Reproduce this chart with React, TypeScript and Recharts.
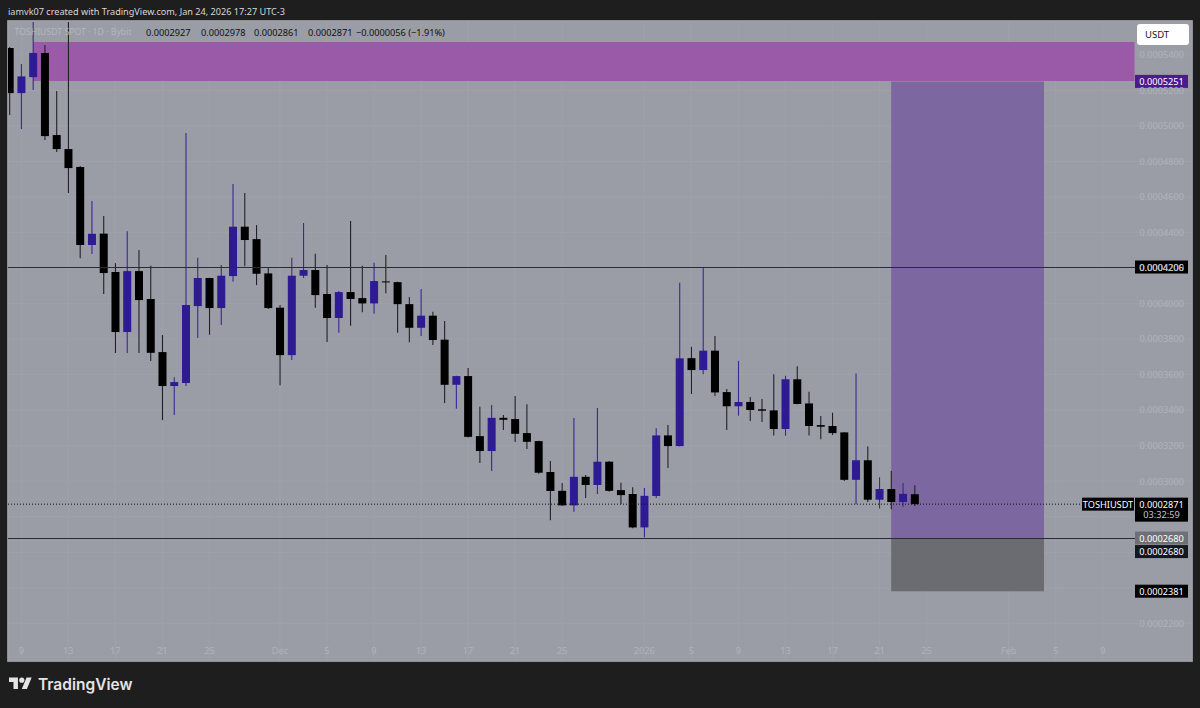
import { Bar, CartesianGrid, ComposedChart, ReferenceArea, ReferenceLine, XAxis, YAxis } from "recharts";

// prices are kept in units of 0.0000001
const days = Array.from({ length: 78 }, (_, i) => i);
const opens = [
  5439, 5185, 5275, 5411, 4949, 4870, 4769, 4330, 4394, 4178, 3840, 4183, 4026, 3727, 3536, 3553, 3986, 4144, 3975, 4155,
  4433, 4363, 4170, 3977, 3710, 4157, 4189, 4054, 3919, 4065, 4031, 4001, 4125, 4121, 3997, 3864, 3932, 3797, 3543, 3592,
  3254, 3170, 3357, 3350, 3271, 3226, 3052, 2946, 2864, 3025, 2979, 3110, 2950, 2928, 2740, 2917, 3258, 3198, 3693, 3626,
  3735, 3502, 3422, 3446, 3405, 3399, 3294, 3574, 3438, 3316, 3311, 3275, 3008, 3118, 2896, 2956, 2883, 2927,
];
const highs = [
  5445, 5349, 5585, 5456, 5197, 5585, 4774, 4577, 4493, 4228, 4408, 4302, 4213, 3823, 3586, 4960, 4258, 4146, 4217, 4673,
  4622, 4442, 4202, 3992, 4258, 4454, 4281, 4217, 4071, 4465, 4213, 4230, 4273, 4123, 4037, 4082, 3954, 3902, 3594, 3637,
  3419, 3429, 3373, 3480, 3434, 3228, 3114, 2990, 3356, 3035, 3412, 3114, 2991, 2966, 2962, 3299, 3316, 4117, 3757, 4206,
  3817, 3519, 3678, 3474, 3463, 3602, 3594, 3648, 3504, 3367, 3386, 3277, 3607, 3196, 3022, 3057, 2990, 2978,
];
const lows = [
  5062, 4983, 5202, 4921, 4853, 4622, 4256, 4279, 4054, 3722, 3722, 3722, 3677, 3344, 3373, 3536, 3806, 3825, 3879, 4123,
  4211, 4104, 3970, 3541, 3682, 4144, 3977, 3784, 3836, 3875, 3952, 3943, 4059, 3836, 3783, 3817, 3767, 3440, 3408, 3246,
  3102, 3057, 3288, 3221, 3181, 3042, 2781, 2862, 2828, 2905, 2928, 2941, 2870, 2736, 2684, 2905, 3074, 3196, 3491, 3603,
  3480, 3288, 3369, 3339, 3333, 3258, 3256, 3433, 3258, 3236, 3260, 3001, 2871, 2883, 2847, 2842, 2856, 2861,
];
const closes = [
  5185, 5279, 5411, 4943, 4870, 4763, 4330, 4393, 4172, 3840, 4183, 4020, 3723, 3536, 3558, 3992, 4144, 3975, 4157, 4433,
  4358, 4168, 3975, 3710, 4157, 4189, 4048, 3919, 4065, 4026, 4001, 4127, 4121, 3997, 3864, 3932, 3795, 3543, 3592, 3250,
  3170, 3357, 3346, 3267, 3222, 3048, 2945, 2864, 3025, 2979, 3110, 2946, 2922, 2740, 2918, 3258, 3198, 3692, 3626, 3735,
  3500, 3422, 3446, 3401, 3397, 3294, 3574, 3435, 3311, 3307, 3271, 3008, 3118, 2896, 2956, 2883, 2929, 2871,
];

const priceTicks = [2200, 2400, 2600, 2800, 3000, 3200, 3400, 3600, 3800, 4000, 4200, 4400, 4600, 4800, 5000, 5200, 5400];
// these sit behind the price tags in the picture, only their grid lines show
const coveredTicks = [2400, 2600, 2800];
const dayTicks = [1, 5, 9, 13, 17, 23, 27, 31, 35, 39, 43, 47, 54, 58, 62, 66, 70, 74, 78, 85, 89, 93];
const dayLabels = ["9", "13", "17", "21", "25", "Dec", "5", "9", "13", "17", "21", "25", "2026", "5", "9", "13", "17", "21", "25", "Feb", "5", "9"];

const candles = days.map((day, i) => ({
  day,
  open: opens[i],
  high: highs[i],
  low: lows[i],
  close: closes[i],
}));

const FONT = "'Noto Sans', sans-serif";
const BLUE = "#2e1a93";
const BLACK = "#000000";

const fmt = (v: number) => (v / 1e7).toFixed(7);

function Candle(props: any) {
  const { x, y, width, height, payload } = props;
  const { open, high, low, close } = payload;
  const perUnit = height / (high - low);
  const up = close > open;
  const top = y + (high - Math.max(open, close)) * perUnit;
  const bodyH = Math.max(Math.abs(open - close) * perUnit, 1);
  const cx = x + width / 2;
  return (
    <g>
      <line x1={cx} x2={cx} y1={y} y2={y + height} stroke={up ? "#3a2799" : "#222226"} strokeWidth={1.1} />
      <rect x={x} y={top} width={width} height={bodyH} fill={up ? BLUE : BLACK} />
    </g>
  );
}

function PriceTag(props: any) {
  const { viewBox, text, fill, color = "#ffffff", sub, tagX = 1135, tagW = 53, dy = 0 } = props;
  const cy = viewBox.y + dy;
  return (
    <g>
      <rect x={tagX} y={cy - 6.5} width={tagW} height={sub ? 24 : 13} fill={fill} />
      <text x={tagX + tagW / 2} y={cy + 3.5} fill={color} fontSize={9.2} fontFamily={FONT} textAnchor="middle">
        {text}
      </text>
      {sub ? (
        <text x={tagX + tagW / 2} y={cy + 14} fill="#c4c5c9" fontSize={9.2} fontFamily={FONT} textAnchor="middle">
          {sub}
        </text>
      ) : null}
    </g>
  );
}

export default function App() {
  return (
    <div style={{ position: "absolute", left: 0, top: 0, width: 1200, height: 708, background: "#1e1e1e", overflow: "hidden" }}>
      <div style={{ position: "absolute", left: 8, top: 5, color: "#d8d8d8", fontFamily: FONT, fontSize: 9.15, lineHeight: "14px", whiteSpace: "nowrap" }}>
        iamvk07 created with TradingView.com, Jan 24, 2026 17:27 UTC-3
      </div>
      <div style={{ position: "absolute", left: 7, top: 20, width: 1184, height: 640, background: "#9a9da6", border: "1px solid #7c7d82" }} />

      <div style={{ position: "absolute", left: 0, top: 0 }}>
        <ComposedChart width={1200} height={708} data={candles} margin={{ top: 21, right: 8, bottom: 47, left: 8 }}>
          <CartesianGrid stroke="#9fa2ab" strokeWidth={1} />
          <ReferenceArea x1={2} x2={95.7} y1={5253} y2={5473} fill="#9b5aa8" fillOpacity={1} stroke="none" />
          <ReferenceArea x1={75} x2={88} y1={2680} y2={5251} fill="#7c67a0" fillOpacity={1} stroke="none" />
          <ReferenceArea x1={75} x2={88} y1={2381} y2={2680} fill="#6b6c71" fillOpacity={1} stroke="none" />
          <XAxis
            type="number"
            dataKey="day"
            domain={[-0.132, 100.59]}
            allowDataOverflow
            ticks={dayTicks}
            interval={0}
            orientation="bottom"
            mirror
            axisLine={false}
            tickLine={false}
            tickSize={0}
            tickMargin={7}
            tickFormatter={(v: number) => dayLabels[dayTicks.indexOf(v)]}
            tick={{ fill: "#b0b3ba", fontSize: 9.2, fontFamily: FONT }}
          />
          <YAxis
            type="number"
            domain={[1988, 5591]}
            allowDataOverflow
            ticks={priceTicks}
            interval={0}
            orientation="right"
            mirror
            axisLine={false}
            tickLine={false}
            tickSize={0}
            tickMargin={8}
            tickFormatter={(v: number) => (coveredTicks.includes(v) ? "" : fmt(v))}
            tick={{ fill: "#b0b3ba", fontSize: 9.2, fontFamily: FONT }}
          />
          <Bar dataKey={(d: any) => [d.low, d.high]} barSize={8} shape={<Candle />} isAnimationActive={false} />
          <ReferenceLine
            segment={[{ x: -0.132, y: 4206 }, { x: 95.7, y: 4206 }]}
            stroke="#2a2b30"
            shapeRendering="crispEdges"
            label={(p: any) => <PriceTag {...p} text={fmt(4206)} fill="#000000" />}
          />
          <ReferenceLine
            segment={[{ x: -0.132, y: 2680 }, { x: 95.7, y: 2680 }]}
            stroke="#2a2b30"
            shapeRendering="crispEdges"
            label={(p: any) => <PriceTag {...p} text={fmt(2680)} fill="#6f7077" />}
          />
          <ReferenceLine
            segment={[{ x: -0.132, y: 2871 }, { x: 91.2, y: 2871 }]}
            stroke="#111111"
            strokeDasharray="1 2"
            label={(p: any) => (
              <g>
                <PriceTag {...p} text="TOSHIUSDT" fill="#000000" tagX={1082} tagW={52} />
                <PriceTag {...p} text={fmt(2871)} fill="#000000" sub="03:32:59" />
              </g>
            )}
          />
          <ReferenceLine y={5251} stroke="none" label={(p: any) => <PriceTag {...p} text={fmt(5251)} fill="#4a1a8f" />} />
          <ReferenceLine y={2680} stroke="none" label={(p: any) => <PriceTag {...p} text={fmt(2680)} fill="#131722" dy={13.5} />} />
          <ReferenceLine y={2381} stroke="none" label={(p: any) => <PriceTag {...p} text={fmt(2381)} fill="#000000" />} />
        </ComposedChart>
      </div>

      {/* pane legend */}
      <div style={{ position: "absolute", left: 14.5, top: 26, color: "#b3b6bd", fontFamily: FONT, fontSize: 8.7, lineHeight: "13px", whiteSpace: "nowrap" }}>
        TOSHIUSDT SPOT · 1D · Bybit
      </div>
      {[
        [146, "0.0002927"],
        [201, "0.0002978"],
        [254, "0.0002861"],
        [308, "0.0002871"],
        [356, "−0.0000056 (−1.91%)"],
      ].map(([left, text]) => (
        <div
          key={text}
          style={{ position: "absolute", left: left as number, top: 26, color: "#111111", fontFamily: FONT, fontSize: 9.2, lineHeight: "13px", whiteSpace: "nowrap" }}
        >
          {text}
        </div>
      ))}

      <div
        style={{
          position: "absolute",
          left: 1137,
          top: 24,
          width: 44,
          height: 21,
          paddingLeft: 8,
          background: "#ffffff",
          borderRadius: 3,
          color: "#131722",
          fontFamily: FONT,
          fontSize: 9.5,
          lineHeight: "21px",
        }}
      >
        USDT
      </div>

      {/* logo */}
      <svg style={{ position: "absolute", left: 9, top: 675 }} width={23} height={18} viewBox="0 0 36 28">
        <path d="M14 22H7V11H0V4h14v18zM28 22h-8l7.5-18h8L28 22z" fill="#e4e4e4" />
        <circle cx={20} cy={8} r={4} fill="#e4e4e4" />
      </svg>
      <div style={{ position: "absolute", left: 38, top: 675, color: "#e4e4e4", fontFamily: "Inter, sans-serif", fontWeight: 600, fontSize: 15.5, whiteSpace: "nowrap" }}>
        TradingView
      </div>
    </div>
  );
}
